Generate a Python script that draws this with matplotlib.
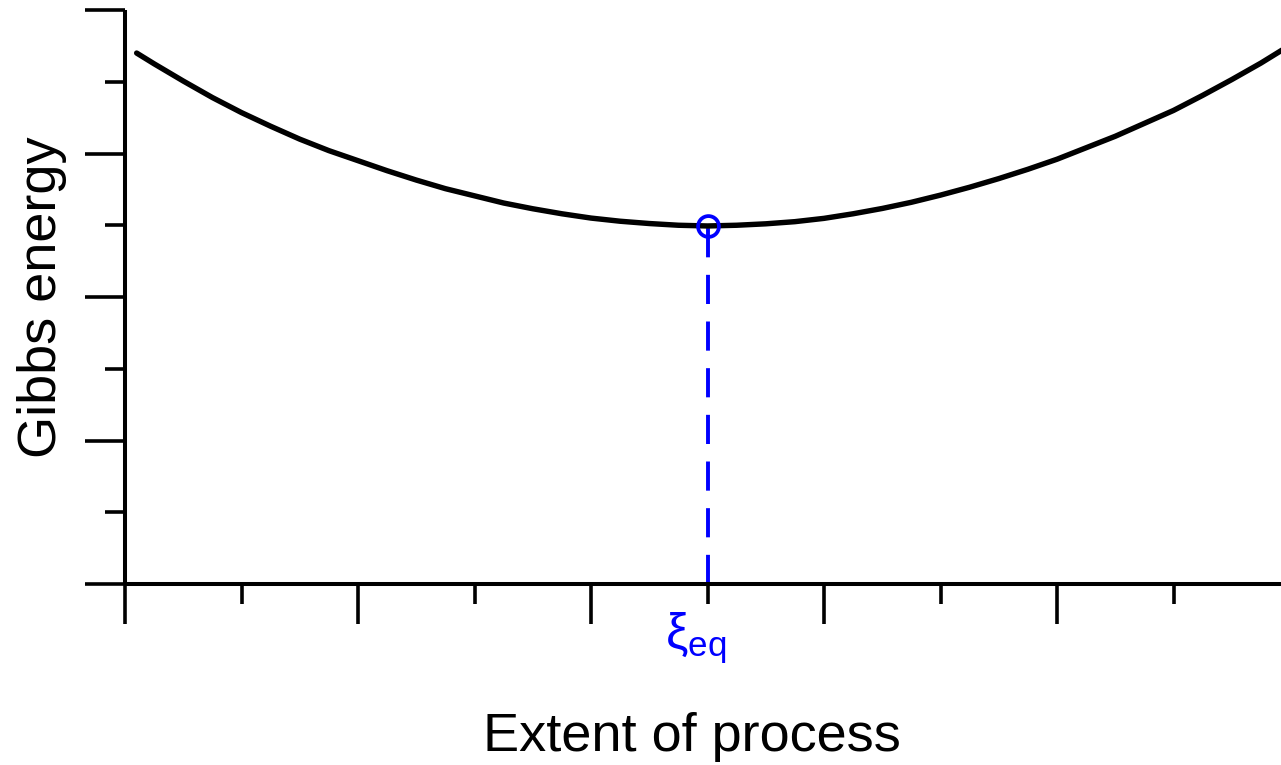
import matplotlib
matplotlib.use("Agg")
import matplotlib.pyplot as plt
from matplotlib.transforms import offset_copy

plt.rcParams['font.family'] = ['Liberation Sans', 'DejaVu Sans']
plt.rcParams['mathtext.fontset'] = 'custom'
plt.rcParams['mathtext.rm'] = 'Liberation Sans'
plt.rcParams['mathtext.it'] = 'Liberation Sans:italic'
plt.rcParams['mathtext.sf'] = 'Liberation Sans'

# Data
extent = [0.01, 0.025, 0.05, 0.075, 0.10, 0.125, 0.15, 0.175, 0.20, 0.225,
          0.25, 0.275, 0.30, 0.325, 0.35, 0.375, 0.40, 0.425, 0.45, 0.475,
          0.50, 0.525, 0.55, 0.575, 0.60, 0.625, 0.65, 0.675, 0.70, 0.725,
          0.75, 0.775, 0.80, 0.825, 0.85, 0.875, 0.90, 0.925, 0.95, 0.975,
          0.99, 1.00]
gibbs = [3.70, 3.625, 3.505, 3.39, 3.285, 3.19, 3.10, 3.02, 2.95, 2.88,
         2.815, 2.755, 2.705, 2.655, 2.615, 2.58, 2.55, 2.528, 2.512, 2.50,
         2.495, 2.50, 2.51, 2.525, 2.548, 2.58, 2.617, 2.66, 2.71, 2.765,
         2.825, 2.89, 2.96, 3.04, 3.12, 3.21, 3.30, 3.405, 3.515, 3.63,
         3.705, 3.755]
xi_eq = 0.5
g_eq = 2.495
x_major = [0.0, 0.2, 0.4, 0.6, 0.8]
x_minor = [0.1, 0.3, 0.5, 0.7, 0.9]
y_major = [0, 1, 2, 3, 4]
y_minor = [0.5, 1.5, 2.5, 3.5]

W, H = 1281, 765
fig = plt.figure(figsize=(W / 100, H / 100), dpi=100)
x0, x1 = 125, 1281
y_bot, y_top = 584, 10
ax = fig.add_axes([x0 / W, 1 - y_bot / H, (x1 - x0) / W, (y_bot - y_top) / H])
ax.set_xlim(0, (x1 - x0) / 1165.0)
ax.set_ylim(0, 4)

ax.plot(extent, gibbs, color='black', lw=3.9, solid_capstyle='round',
        solid_joinstyle='round', zorder=3)
ax.plot([xi_eq, xi_eq], [0, g_eq], color='#0000ff', lw=2.8,
        dashes=(7.5, 4.5), zorder=2)
ax.plot([xi_eq], [g_eq], marker='o', ms=15, mfc='none', mec='#0000ff',
        mew=2.7, zorder=4)

for s in ['top', 'right']:
    ax.spines[s].set_visible(False)
for s in ['left', 'bottom']:
    ax.spines[s].set_linewidth(2.9)
    ax.spines[s].set_capstyle('butt')

ax.set_xticks(x_major)
ax.set_xticks(x_minor, minor=True)
ax.set_yticks(y_major)
ax.set_yticks(y_minor, minor=True)
ax.tick_params(which='major', length=29, width=2.6, labelbottom=False,
               labelleft=False)
ax.tick_params(which='minor', length=14.5, width=2.6)
ax.patch.set_visible(False)

tr = offset_copy(ax.transData, fig=fig, x=-12, y=0, units='dots')
ax.text(xi_eq, -0.38, r'$\mathrm{\xi}_{\mathrm{eq}}$', color='#0000ff',
        fontsize=36, ha='center', va='center', transform=tr)

fig.text(692 / W, 1 - 737 / H, 'Extent of process', fontsize=39,
         ha='center', va='center')
fig.text(42 / W, 1 - 297 / H, 'Gibbs energy', fontsize=39, rotation=90,
         ha='center', va='center')

fig.savefig('out.png', dpi=100)
